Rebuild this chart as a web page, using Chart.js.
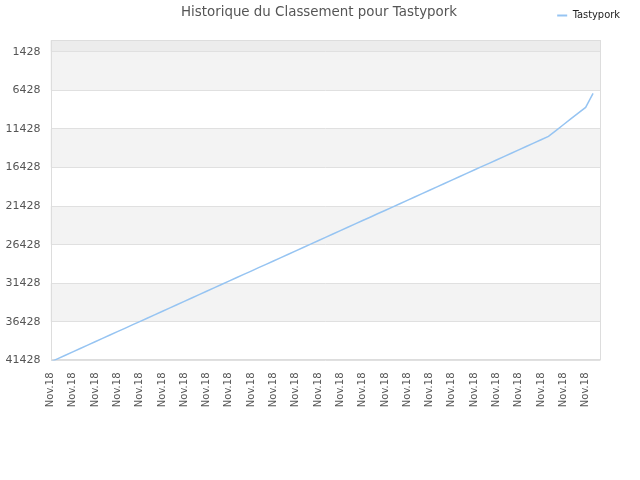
<!DOCTYPE html>
<html>
<head>
<meta charset="utf-8">
<script src="https://cdn.jsdelivr.net/npm/chart.js@4/dist/chart.umd.min.js"></script>
<style>
html,body{margin:0;padding:0;background:#ffffff;}
#wrap{width:640px;height:480px;}
</style>
</head>
<body>
<div id="wrap"><canvas id="c" width="640" height="480"></canvas></div>
<script>
const chartTitle = 'Historique du Classement pour Tastypork';
const seriesName = 'Tastypork';
const categories = [
  'Nov.18','Nov.18','Nov.18','Nov.18','Nov.18','Nov.18','Nov.18','Nov.18','Nov.18','Nov.18',
  'Nov.18','Nov.18','Nov.18','Nov.18','Nov.18','Nov.18','Nov.18','Nov.18','Nov.18','Nov.18',
  'Nov.18','Nov.18','Nov.18','Nov.18','Nov.18','Nov.18','Nov.18','Nov.18','Nov.18','Nov.18',
  'Nov.18','Nov.18','Nov.18','Nov.18','Nov.18','Nov.18','Nov.18','Nov.18','Nov.18','Nov.18',
  'Nov.18','Nov.18','Nov.18','Nov.18','Nov.18','Nov.18','Nov.18','Nov.18','Nov.18','Nov.18',
  'Nov.18','Nov.18','Nov.18','Nov.18','Nov.18','Nov.18','Nov.18','Nov.18','Nov.18','Nov.18',
  'Nov.18','Nov.18','Nov.18','Nov.18','Nov.18','Nov.18','Nov.18','Nov.18','Nov.18','Nov.18',
  'Nov.18','Nov.18','Nov.18','Nov.18','Nov.18'
];
const ranks = [
  41620, 41185, 40750, 40310, 39875, 39440, 39005, 38565, 38130, 37695,
  37260, 36820, 36385, 35950, 35515, 35075, 34640, 34205, 33770, 33330,
  32895, 32460, 32025, 31590, 31150, 30715, 30280, 29845, 29405, 28970,
  28535, 28100, 27660, 27225, 26790, 26355, 25915, 25480, 25045, 24610,
  24170, 23735, 23300, 22865, 22425, 21990, 21555, 21120, 20680, 20245,
  19810, 19375, 18940, 18500, 18065, 17630, 17195, 16755, 16320, 15885,
  15450, 15010, 14575, 14140, 13705, 13265, 12830, 12395,
  11640, 10890, 10140, 9390, 8640, 6830
];
const yTickValues = [1428, 6428, 11428, 16428, 21428, 26428, 31428, 36428, 41428];
const yMin = -50;
const yMax = 41428;
const grayBands = [[1428, 6428], [11428, 16428], [21428, 26428], [31428, 36428]];
const topBand = [yMin, 1428];
const xLabelEvery = 3;

const decorPlugin = {
  id: 'decor',
  beforeDraw(chart) {
    const {ctx, chartArea: a, scales} = chart;
    const y = scales.y;
    ctx.save();
    ctx.fillStyle = '#ffffff';
    ctx.fillRect(0, 0, chart.width, chart.height);
    ctx.fillStyle = '#f3f3f3';
    grayBands.forEach(([v1, v2]) => {
      const p1 = y.getPixelForValue(v1), p2 = y.getPixelForValue(v2);
      ctx.fillRect(a.left, Math.min(p1, p2), a.right - a.left, Math.abs(p2 - p1));
    });
    ctx.fillStyle = '#ececec';
    const t1 = y.getPixelForValue(topBand[0]), t2 = y.getPixelForValue(topBand[1]);
    ctx.fillRect(a.left, Math.min(t1, t2), a.right - a.left, Math.abs(t2 - t1));
    ctx.restore();
  },
  beforeDatasetsDraw(chart) {
    const {ctx, chartArea: a} = chart;
    ctx.save();
    ctx.strokeStyle = '#dddddd';
    ctx.lineWidth = 1;
    ctx.strokeRect(Math.round(a.left) + 0.5, Math.round(a.top) + 0.5,
      Math.round(a.right - a.left) - 1, Math.round(a.bottom - a.top) - 1);
    ctx.restore();
  },
  afterDraw(chart) {
    const {ctx} = chart;
    ctx.save();
    ctx.font = '13.4px "DejaVu Sans"';
    ctx.fillStyle = '#555555';
    ctx.textAlign = 'center';
    ctx.textBaseline = 'middle';
    ctx.fillText(chartTitle, 319, 12.5);
    ctx.restore();
  }
};

new Chart(document.getElementById('c'), {
  type: 'line',
  data: {
    labels: categories,
    datasets: [{
      label: seriesName,
      data: ranks,
      borderColor: '#96c4f2',
      backgroundColor: '#96c4f2',
      borderWidth: 1.5,
      pointRadius: 0,
      pointHoverRadius: 0,
      tension: 0,
      fill: false
    }]
  },
  options: {
    responsive: false,
    animation: false,
    devicePixelRatio: 1,
    layout: { padding: { left: 0, right: 10, top: 0, bottom: 0 } },
    plugins: {
      title: { display: false },
      tooltip: { enabled: false },
      legend: {
        display: true,
        position: 'top',
        align: 'end',
        labels: {
          boxWidth: 10,
          boxHeight: 2,
          padding: 10,
          color: '#222222',
          font: { family: '"DejaVu Sans Condensed"', size: 11 },
          generateLabels(chart) {
            const items = Chart.defaults.plugins.legend.labels.generateLabels(chart);
            items.forEach(it => { it.lineWidth = 0; });
            return items;
          }
        }
      }
    },
    scales: {
      x: {
        type: 'category',
        position: 'bottom',
        offset: false,
        grid: { display: false, drawTicks: false },
        border: { display: false },
        ticks: {
          autoSkip: false,
          minRotation: 90,
          maxRotation: 90,
          padding: 12,
          color: '#555555',
          font: { family: '"DejaVu Sans"', size: 10 },
          callback(val, idx) { return idx % xLabelEvery === 0 ? categories[idx] : ''; }
        },
        afterFit(scale) { scale.height = 119.5; }
      },
      xTopSpacer: {
        type: 'linear',
        position: 'top',
        display: true,
        grid: { display: false, drawTicks: false },
        border: { display: false },
        ticks: { display: false },
        afterFit(scale) { scale.height = 9.3; }
      },
      y: {
        type: 'linear',
        position: 'left',
        reverse: true,
        min: yMin,
        max: yMax,
        grid: { color: '#e0e0e0', lineWidth: 1, drawTicks: false },
        border: { display: false },
        ticks: {
          padding: 10,
          color: '#555555',
          font: { family: '"DejaVu Sans"', size: 11 },
          callback(v) { return String(v); }
        },
        afterBuildTicks(scale) { scale.ticks = yTickValues.map(v => ({ value: v })); },
        afterFit(scale) { scale.width = 50.5; }
      },
      yRightSpacer: {
        type: 'linear',
        position: 'right',
        display: true,
        grid: { display: false, drawTicks: false },
        border: { display: false },
        ticks: { display: false },
        afterFit(scale) { scale.width = 29.5; }
      }
    }
  },
  plugins: [decorPlugin]
});
</script>
</body>
</html>
